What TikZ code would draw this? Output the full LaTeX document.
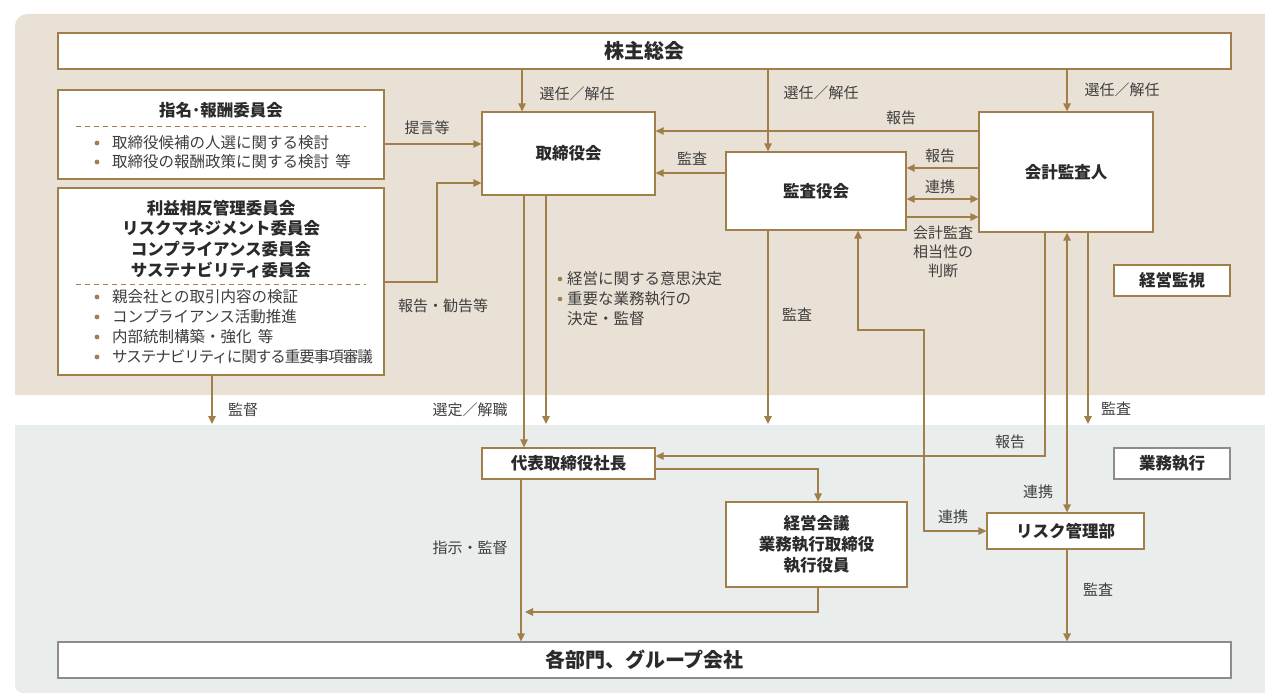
\documentclass[tikz,border=0pt]{standalone}
\usepackage{fontspec}
\setmainfont{Noto Sans CJK JP}
\usetikzlibrary{arrows.meta,calc}
\definecolor{gold}{HTML}{A07F4B}
\definecolor{beige}{HTML}{E9E1D5}
\definecolor{pgray}{HTML}{E9EDEB}
\definecolor{txt}{HTML}{3E3E3E}
\definecolor{ttl}{HTML}{2A2A2A}
\definecolor{gbord}{HTML}{8C8C8C}
\begin{document}
\begin{tikzpicture}[x=1pt,y=-1pt,
  box/.style={draw=gold,line width=1.3pt,fill=white,inner sep=0pt,align=center,text=ttl,
    font=\bfseries\fontsize{16.5}{20.7}\selectfont},
  gbox/.style={box,draw=gbord},
  big/.style={box,font=\bfseries\fontsize{20}{24}\selectfont},
  ttlt/.style={inner sep=0pt,align=center,text=ttl,font=\bfseries\fontsize{16.5}{20.7}\selectfont},
  lbl/.style={inner sep=0pt,align=center,text=txt,font=\fontsize{15}{19}\selectfont},
  blt/.style={lbl,anchor=west,font=\fontsize{15.5}{19}\selectfont},
  conn/.style={draw=gold,line width=1.3pt,-{Triangle[length=8pt,width=7.5pt]}},
  biconn/.style={draw=gold,line width=1.3pt,{Triangle[length=8pt,width=7.5pt]}-{Triangle[length=8pt,width=7.5pt]}},
  sep/.style={draw=gold,line width=1pt,dash pattern=on 5pt off 4pt},
  dot/.style={fill=gold}
]
\useasboundingbox (0,0) rectangle (1265,693);
% panels
\fill[beige] (15,395) [rounded corners=12pt]-- (15,14) [sharp corners]-- (1265,14) -- (1265,395) -- cycle;
\fill[pgray] (1265,693) [rounded corners=8pt]-- (15,693) [sharp corners]-- (15,425) -- (1265,425) -- cycle;
\coordinate (gtop) at (0,424);

% lanes
\coordinate (xa) at (522,0);
\coordinate (xa0) at (521,0);
\coordinate (xa1) at (525,0);
\coordinate (xb2) at (524,0);
\coordinate (xb) at (546,0);
\coordinate (xc) at (768,0);
\coordinate (xd) at (1067,0);
\coordinate (xe) at (1045,0);
\coordinate (xf) at (1088,0);
\coordinate (xg) at (858,0);
\coordinate (xh) at (924,0);
\coordinate (xi) at (437,0);
\coordinate (xj) at (212,0);
\coordinate (xk) at (818,0);
\coordinate (y131) at (0,131);
\coordinate (y144) at (0,144);
\coordinate (y168) at (0,168);
\coordinate (y173) at (0,173);
\coordinate (y183) at (0,183);
\coordinate (y199) at (0,199);
\coordinate (y217) at (0,217);
\coordinate (y282) at (0,282);
\coordinate (y330) at (0,330);
\coordinate (y456) at (0,456);
\coordinate (y469) at (0,469);
\coordinate (y612) at (0,612);

% boxes
\node[big,minimum width=1173pt,minimum height=36pt] (sh) at (644.5,51) {株主総会};
\node[box,minimum width=326pt,minimum height=89pt] (nom) at (221,134.5) {};
\node[box,minimum width=326pt,minimum height=187pt] (com) at (221,281.5) {};
\node[box,minimum width=173pt,minimum height=83pt] (bod) at (568.5,153.5) {取締役会};
\node[box,minimum width=180pt,minimum height=78pt] (kan) at (816,191) {監査役会};
\node[box,minimum width=174pt,minimum height=120pt] (aud) at (1066,172) {会計監査人};
\node[box,minimum width=116pt,minimum height=31pt] (mon) at (1172,280.5) {経営監視};
\node[gbox,minimum width=116pt,minimum height=31pt] (exe) at (1172,463.5) {業務執行};
\node[box,minimum width=173pt,minimum height=31pt] (ceo) at (568.5,463.5) {代表取締役社長};
\node[box,minimum width=181pt,minimum height=85pt] (mtg) at (816.5,544.5) {経営会議\\業務執行取締役\\執行役員};
\node[box,minimum width=157pt,minimum height=36pt] (risk) at (1065.5,531) {リスク管理部};
\node[gbox,font=\bfseries\fontsize{20}{24}\selectfont,minimum width=1173pt,minimum height=36pt] (dept) at (644.5,660) {各部門、グループ会社};

% committee contents
\node[ttlt] (nomt) at (221,110) {指名･報酬委員会};
\draw[sep] (76,126) -- (366,126);
\fill[dot] (97,143) circle (2.4pt);
\fill[dot] (97,162) circle (2.4pt);
\node[blt] (nb1) at (112,143) {取締役候補の人選に関する検討};
\node[blt] (nb2) at (112,162) {取締役の報酬政策に関する検討\hspace{0.4em}等};

\node[ttlt] (comt) at (221,239) {利益相反管理委員会\\リスクマネジメント委員会\\コンプライアンス委員会\\サステナビリティ委員会};
\draw[sep] (76,284) -- (366,284);
\foreach \yy in {297,317,337,357} {\fill[dot] (97,\yy) circle (2.4pt);}
\node[blt] (cb1) at (112,297) {親会社との取引内容の検証};
\node[blt] (cb2) at (112,317) {コンプライアンス活動推進};
\node[blt] (cb3) at (112,337) {内部統制構築・強化\hspace{0.4em}等};
\node[blt] (cb4) at (112,357) {\addfontfeature{LetterSpace=-6.5}サステナビリティに関する重要事項審議};

% board duties
\fill[dot] (560,279) circle (2.3pt);
\fill[dot] (560,299) circle (2.3pt);
\node[blt] (bd1) at (567,279) {経営に関する意思決定};
\node[blt] (bd2) at (567,299) {重要な業務執行の};
\node[blt] (bd3) at (567,319) {決定・監督};

% labels
\node[lbl] (l1) at (577,94) {選任／解任};
\node[lbl] (l2) at (821,93) {選任／解任};
\node[lbl] (l3) at (1122,90) {選任／解任};
\node[lbl] (l4) at (427,128) {提言等};
\node[lbl] (l5) at (443,306) {報告・勧告等};
\node[lbl] (l6) at (901,118) {報告};
\node[lbl] (l7) at (692,159) {監査};
\node[lbl] (l8) at (940,156) {報告};
\node[lbl] (l9) at (940,187) {連携};
\node[lbl] (l10) at (943,252) {会計監査\\相当性の\\判断};
\node[lbl] (l11) at (797,315) {監査};
\node[lbl] (l12) at (243,410) {監督};
\node[lbl] (l13) at (470,410) {選定／解職};
\node[lbl] (l14) at (1116,409) {監査};
\node[lbl] (l15) at (1010,442) {報告};
\node[lbl] (l16) at (1038,492) {連携};
\node[lbl] (l17) at (953,517) {連携};
\node[lbl] (l18) at (470,548) {指示・監督};
\node[lbl] (l19) at (1098,590) {監査};

% connectors
\draw[conn] (xa |- sh.south) -- (xa |- bod.north);
\draw[conn] (xc |- sh.south) -- (xc |- kan.north);
\draw[conn] (xd |- sh.south) -- (xd |- aud.north);
\draw[conn] (nom.east |- y144) -- (bod.west |- y144);
\draw[conn] (com.east |- y282) -| (xi |- y183) -- (bod.west |- y183);
\draw[conn] (aud.west |- y131) -- (bod.east |- y131);
\draw[conn] (kan.west |- y173) -- (bod.east |- y173);
\draw[conn] (aud.west |- y168) -- (kan.east |- y168);
\draw[biconn] (kan.east |- y199) -- (aud.west |- y199);
\draw[conn] (kan.east |- y217) -- (aud.west |- y217);
\draw[conn] (xb2 |- bod.south) -- (xb2 |- ceo.north);
\draw[conn] (xb |- bod.south) -- (xb |- gtop);
\draw[conn] (xc |- kan.south) -- (xc |- gtop);
\draw[conn] (xj |- com.south) -- (xj |- gtop);
\draw[biconn] (risk.west) -| (xh |- y330) -| (xg |- kan.south);
\draw[conn] (xe |- aud.south) |- (ceo.east |- y456);
\draw[biconn] (xd |- aud.south) -- (xd |- risk.north);
\draw[conn] (xf |- aud.south) -- (xf |- gtop);
\draw[conn] (ceo.east |- y469) -| (xk |- mtg.north);
\draw[conn] (xk |- mtg.south) |- (xa1 |- y612);
\draw[conn] (xa0 |- ceo.south) -- (xa0 |- dept.north);
\draw[conn] (xd |- risk.south) -- (xd |- dept.north);
\end{tikzpicture}
\end{document}
